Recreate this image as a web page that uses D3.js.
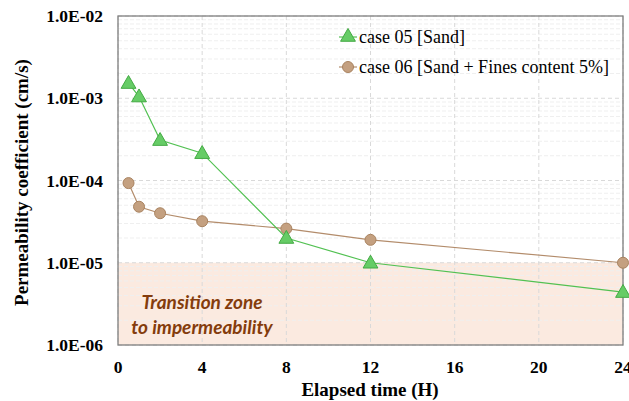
<!DOCTYPE html>
<html>
<head>
<meta charset="utf-8">
<script src="https://cdn.jsdelivr.net/npm/d3@7"></script>
<style>
  body { margin: 0; background: #fff; }
  svg { display: block; }
</style>
</head>
<body>
<svg width="629" height="401"></svg>
<script>
// data
var hours = [0.5, 1, 2, 4, 8, 12, 24];
var case05 = [1.53e-3, 1.05e-3, 3.1e-4, 2.15e-4, 2.0e-5, 1.0e-5, 4.4e-6];
var case06 = [9.3e-5, 4.8e-5, 4.0e-5, 3.2e-5, 2.6e-5, 1.9e-5, 1.0e-5];
var xTicks = [0, 4, 8, 12, 16, 20, 24];
var yTicks = [1e-6, 1e-5, 1e-4, 1e-3, 1e-2];
var seriesNames = ["case 05 [Sand]", "case 06 [Sand + Fines content 5%]"];
var zoneLimit = 1e-5;

var svg = d3.select("svg");
var pLeft = 118, pRight = 623, pTop = 16, pBottom = 345;

var x = d3.scaleLinear().domain([0, 24]).range([pLeft, pRight]);
var y = d3.scaleLog().domain([1e-6, 1e-2]).range([pBottom, pTop]);

// shaded zone
svg.append("rect")
  .attr("x", pLeft).attr("y", y(zoneLimit))
  .attr("width", pRight - pLeft).attr("height", pBottom - y(zoneLimit))
  .style("fill", "#fbeae0");

// minor gridlines
var minor = [];
for (var e = -6; e < -2; e++) {
  for (var m = 2; m <= 9; m++) minor.push(m * Math.pow(10, e));
}
svg.selectAll("line.minor").data(minor).enter().append("line")
  .attr("class", "minor")
  .attr("x1", pLeft).attr("x2", pRight)
  .attr("y1", function(d) { return y(d); }).attr("y2", function(d) { return y(d); })
  .style("stroke", "#efefef").style("stroke-width", 1).style("stroke-dasharray", "4,2");

// major gridlines
svg.selectAll("line.hmaj").data(yTicks).enter().append("line")
  .attr("class", "hmaj")
  .attr("x1", pLeft).attr("x2", pRight)
  .attr("y1", function(d) { return y(d); }).attr("y2", function(d) { return y(d); })
  .style("stroke", "#d9d9d9").style("stroke-dasharray", "4,3");
svg.selectAll("line.vmaj").data(xTicks).enter().append("line")
  .attr("class", "vmaj")
  .attr("x1", function(d) { return x(d); }).attr("x2", function(d) { return x(d); })
  .attr("y1", pTop).attr("y2", pBottom)
  .style("stroke", "#d9d9d9").style("stroke-dasharray", "4,3");

// frame
svg.append("rect")
  .attr("x", pLeft).attr("y", pTop)
  .attr("width", pRight - pLeft).attr("height", pBottom - pTop)
  .style("fill", "none").style("stroke", "#7f7f7f").style("stroke-width", 1.3);

// zone label
svg.selectAll("text.zone").data(["Transition  zone", "to impermeability"]).enter().append("text")
  .attr("class", "zone")
  .attr("x", 202).attr("y", function(d, i) { return 309 + i * 25; })
  .attr("text-anchor", "middle")
  .style("font-family", "Lato, 'Open Sans', sans-serif")
  .style("font-weight", "bold").style("font-style", "italic")
  .style("font-size", "19px").style("fill", "#843c0c")
  .text(function(d) { return d; });

// axes labels
var tickFont = "'Liberation Serif', 'Times New Roman', serif";
svg.selectAll("text.yt").data(yTicks).enter().append("text")
  .attr("class", "yt")
  .attr("x", 103).attr("y", function(d) { return y(d) + 6; })
  .attr("text-anchor", "end")
  .style("font-family", tickFont).style("font-weight", "bold").style("font-size", "17.5px")
  .text(function(d) { return "1.0E-0" + Math.round(-Math.log10(d)); });
svg.selectAll("text.xt").data(xTicks).enter().append("text")
  .attr("class", "xt")
  .attr("x", function(d) { return x(d); }).attr("y", 373)
  .attr("text-anchor", "middle")
  .style("font-family", tickFont).style("font-weight", "bold").style("font-size", "17.5px")
  .text(function(d) { return d; });

svg.append("text")
  .attr("x", 370).attr("y", 396)
  .attr("text-anchor", "middle")
  .style("font-family", tickFont).style("font-weight", "bold").style("font-size", "19px")
  .text("Elapsed time (H)");
svg.append("text")
  .attr("transform", "translate(28," + ((pTop + pBottom) / 2 + 2) + ") rotate(-90)")
  .attr("text-anchor", "middle")
  .style("font-family", tickFont).style("font-weight", "bold").style("font-size", "19px")
  .text("Permeability  coefficient  (cm/s)");

// series
var line = d3.line()
  .x(function(d) { return x(d[0]); })
  .y(function(d) { return y(d[1]); });

var d06 = hours.map(function(h, i) { return [h, case06[i]]; });
var d05 = hours.map(function(h, i) { return [h, case05[i]]; });

svg.append("path").datum(d06).attr("d", line)
  .style("fill", "none").style("stroke", "#b38c6b").style("stroke-width", 1.2);
svg.append("path").datum(d05).attr("d", line)
  .style("fill", "none").style("stroke", "#52c152").style("stroke-width", 1.2);

var tri = d3.symbol().type(d3.symbolTriangle).size(95);

svg.selectAll("circle.c06").data(d06).enter().append("circle")
  .attr("class", "c06")
  .attr("cx", function(d) { return x(d[0]); })
  .attr("cy", function(d) { return y(d[1]); })
  .attr("r", 5.5)
  .style("fill", "#c4a080").style("stroke", "#a98360").style("stroke-width", 1);
svg.selectAll("path.c05").data(d05).enter().append("path")
  .attr("class", "c05")
  .attr("d", tri)
  .attr("transform", function(d) { return "translate(" + x(d[0]) + "," + (y(d[1]) + 1) + ")"; })
  .style("fill", "#66cc66").style("stroke", "#44aa44").style("stroke-width", 1);

// legend
var lg = svg.append("g");
lg.append("line").attr("x1", 339).attr("x2", 357).attr("y1", 37).attr("y2", 37)
  .style("stroke", "#52c152").style("stroke-width", 1.2);
lg.append("path").attr("d", tri).attr("transform", "translate(348,37)")
  .style("fill", "#66cc66").style("stroke", "#44aa44");
lg.append("line").attr("x1", 339).attr("x2", 357).attr("y1", 67).attr("y2", 67)
  .style("stroke", "#b38c6b").style("stroke-width", 1.2);
lg.append("circle").attr("cx", 348).attr("cy", 67).attr("r", 5.5)
  .style("fill", "#c4a080").style("stroke", "#a98360");
lg.selectAll("text").data(seriesNames).enter().append("text")
  .attr("x", 359).attr("y", function(d, i) { return 43 + i * 30; })
  .style("font-family", tickFont).style("font-size", "18px")
  .text(function(d) { return d; });
</script>
</body>
</html>
